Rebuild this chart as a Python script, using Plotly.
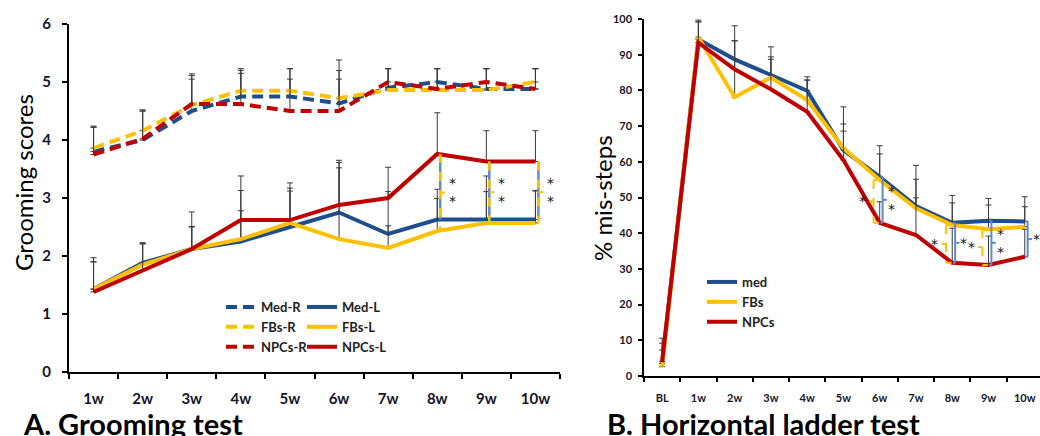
import plotly.graph_objects as go

# ---------------- Data: A. Grooming test ----------------
weeks_a = ["1w", "2w", "3w", "4w", "5w", "6w", "7w", "8w", "9w", "10w"]

med_r = [3.80, 4.00, 4.50, 4.75, 4.75, 4.63, 4.90, 5.00, 4.88, 4.88]
fbs_r = [3.86, 4.16, 4.60, 4.85, 4.85, 4.72, 4.86, 4.86, 4.86, 5.00]
npc_r = [3.75, 4.02, 4.62, 4.62, 4.50, 4.50, 5.00, 4.88, 5.00, 4.88]

med_l = [1.43, 1.88, 2.12, 2.25, 2.50, 2.75, 2.38, 2.63, 2.63, 2.63]
fbs_l = [1.43, 1.85, 2.12, 2.29, 2.57, 2.29, 2.14, 2.43, 2.57, 2.57]
npc_l = [1.38, 1.75, 2.12, 2.62, 2.62, 2.88, 3.00, 3.76, 3.63, 3.63]

# upper ends of the error bars (mean + SEM)
med_r_up = [4.22, 4.52, 5.05, 5.20, 5.23, 5.20, 5.23, 5.23, 5.23, 5.23]
fbs_r_up = [4.24, 4.50, 5.11, 5.23, 5.23, 5.38, 5.23, 5.23, 5.23, 5.23]
npc_r_up = [4.22, 4.50, 5.14, 5.15, 5.05, 5.05, 5.23, 5.23, 5.23, 5.23]
med_l_up = [1.97, 2.23, 2.51, 3.13, 3.12, 3.52, 3.11, 3.15, 3.38, 3.13]
fbs_l_up = [1.90, 2.21, 2.50, 2.78, 3.17, 3.61, 2.52, 2.99, 3.11, 3.12]
npc_l_up = [1.90, 2.21, 2.76, 3.38, 3.26, 3.65, 3.53, 4.47, 4.16, 4.16]

sig_a_idx = [7, 8, 9]
sig_a_txt = ["*<br>*", "*<br>*", "*<br>*"]

# ---------------- Data: B. Horizontal ladder test ----------------
weeks_b = ["BL", "1w", "2w", "3w", "4w", "5w", "6w", "7w", "8w", "9w", "10w"]

med_b = [3.5, 94.3, 88.7, 84.2, 79.9, 63.3, 55.8, 47.6, 42.9, 43.5, 43.3]
fbs_b = [2.6, 94.9, 78.1, 83.6, 77.3, 63.8, 54.9, 47.0, 42.3, 41.1, 41.8]
npc_b = [4.0, 93.4, 85.9, 80.3, 74.0, 60.5, 42.9, 39.5, 31.7, 31.1, 33.4]

med_b_up = [10.6, 99.7, 98.1, 92.2, 83.8, 75.4, 64.5, 59.0, 50.6, 49.7, 50.2]
fbs_b_up = [7.3, 99.2, 93.9, 89.4, 82.9, 70.6, 62.2, 55.1, 48.5, 47.9, 47.4]
npc_b_up = [9.2, 99.2, 93.9, 88.7, 82.9, 68.6, 48.8, 49.9, 41.4, 39.2, 41.1]

sig_b_fbs_idx = [6, 8, 9]
sig_b_fbs_txt = ["*", "*", "*"]
sig_b_med_idx = [6, 8, 9, 10]
sig_b_med_txt = ["*<br>*", "*", "*<br>*", "*"]

# ---------------- Style ----------------
BLUE = "#1F4E8C"
YEL = "#FFC000"
RED = "#C00000"
BR_BLUE = "#5B8BD0"
ERR = "#3A3A3A"
TXT = "#15152a"
W = 1040
H = 436

fig = go.Figure()


def err(up, mean):
    return [round(u - m, 3) for u, m in zip(up, mean)]


def add_line(x, y, up, color, name, dash, xa, ya, legend, width=4):
    fig.add_trace(go.Scatter(
        x=x, y=y, mode="lines", name=name,
        line=dict(color=color, width=width, dash=dash),
        error_y=dict(type="data", symmetric=False, array=err(up, y),
                     arrayminus=[0] * len(y), color=ERR, thickness=1, width=3),
        xaxis=xa, yaxis=ya, legend=legend, showlegend=True,
    ))


DASH = "11px,6px"
# Panel A
add_line(weeks_a, med_r, med_r_up, BLUE, "Med-R", DASH, "x", "y", "legend")
add_line(weeks_a, med_l, med_l_up, BLUE, "Med-L", "solid", "x", "y", "legend2")
add_line(weeks_a, fbs_r, fbs_r_up, YEL, "FBs-R", DASH, "x", "y", "legend")
add_line(weeks_a, fbs_l, fbs_l_up, YEL, "FBs-L", "solid", "x", "y", "legend2")
add_line(weeks_a, npc_r, npc_r_up, RED, "NPCs-R", DASH, "x", "y", "legend")
add_line(weeks_a, npc_l, npc_l_up, RED, "NPCs-L", "solid", "x", "y", "legend2")
# Panel B
add_line(weeks_b, med_b, med_b_up, BLUE, "med", "solid", "x2", "y2", "legend3")
add_line(weeks_b, fbs_b, fbs_b_up, YEL, "FBs", "solid", "x2", "y2", "legend3")
add_line(weeks_b, npc_b, npc_b_up, RED, "NPCs", "solid", "x2", "y2", "legend3")

shapes = []
annos = []


def seg(xref, yref, x0, y0, x1, y1, color, dash="solid", width=2):
    shapes.append(dict(type="line", xref=xref, yref=yref, x0=x0, y0=y0, x1=x1, y1=y1,
                       line=dict(color=color, width=width, dash=dash), layer="above"))


def star(xref, yref, x, y, txt):
    annos.append(dict(xref=xref, yref=yref, x=x, y=y, text=txt, showarrow=False,
                      font=dict(family="DejaVu Sans", size=14, color="#111"),
                      xanchor="center", yanchor="middle"))


# significance brackets, panel A
for i, t in zip(sig_a_idx, sig_a_txt):
    xb = i + 0.06
    ymid = (npc_l[i] + fbs_l[i]) / 2
    seg("x", "y", xb, npc_l[i], xb, med_l[i], BR_BLUE, "solid", 2.5)
    seg("x", "y", xb, npc_l[i], xb, fbs_l[i], YEL, "dash", 2.5)
    seg("x", "y", xb, ymid, xb + 0.1, ymid, YEL, "solid", 2)
    star("x", "y", i + 0.31, ymid, t)

# significance brackets, panel B (FBs vs NPCs, left side)
for i, t in zip(sig_b_fbs_idx, sig_b_fbs_txt):
    xb = i - 0.17
    ymid = (fbs_b[i] + npc_b[i]) / 2
    seg("x2", "y2", xb, fbs_b[i], xb, npc_b[i], YEL, "dash", 2)
    seg("x2", "y2", xb, fbs_b[i], i - 0.02, fbs_b[i], YEL, "solid", 2)
    seg("x2", "y2", xb, npc_b[i], i - 0.02, npc_b[i], YEL, "solid", 2)
    seg("x2", "y2", xb, ymid, xb - 0.12, ymid, YEL, "solid", 2)
    star("x2", "y2", i - 0.48, ymid, t)

# panel B (med vs NPCs, right side)
for i, t in zip(sig_b_med_idx, sig_b_med_txt):
    xb = i + 0.08
    ymid = (med_b[i] + npc_b[i]) / 2
    seg("x2", "y2", xb, med_b[i], xb, npc_b[i], BR_BLUE, "solid", 2)
    seg("x2", "y2", xb, ymid, xb + 0.12, ymid, BR_BLUE, "solid", 2)
    seg("x2", "y2", xb - 0.06, med_b[i], xb, med_b[i], BR_BLUE, "solid", 2)
    seg("x2", "y2", xb - 0.06, npc_b[i], xb, npc_b[i], BR_BLUE, "solid", 2)
    star("x2", "y2", i + 0.32, ymid, t)

# panel titles
annos.append(dict(xref="paper", yref="paper", x=21 / W, y=1 - 423.5 / H, text="A. Grooming test",
                  showarrow=False, xanchor="left", yanchor="middle",
                  font=dict(family="Lato", size=29, color="#000", weight="bold")))
annos.append(dict(xref="paper", yref="paper", x=605 / W, y=1 - 423.5 / H, text="B. Horizontal ladder test",
                  showarrow=False, xanchor="left", yanchor="middle",
                  font=dict(family="Lato", size=29, color="#000", weight="bold")))
# axis titles
annos.append(dict(xref="paper", yref="paper", x=23 / W, y=1 - 183 / H, text="Grooming scores",
                  showarrow=False, xanchor="center", yanchor="middle", textangle=-90,
                  font=dict(family="Lato", size=24, color="#000")))
annos.append(dict(xref="paper", yref="paper", x=602 / W, y=1 - 198 / H, text="% mis-steps",
                  showarrow=False, xanchor="center", yanchor="middle", textangle=-90,
                  font=dict(family="Lato", size=24, color="#000")))

tickfont_a = dict(family="Lato", size=15, color=TXT, weight="bold")
tickfont_b = dict(family="Lato", size=11, color=TXT, weight="bold")
legfont = dict(family="Lato", size=13, color="#222", weight="bold")

fig.update_layout(
    width=W, height=H,
    margin=dict(l=0, r=0, t=0, b=0, autoexpand=False),
    paper_bgcolor="white", plot_bgcolor="white",
    shapes=shapes, annotations=annos,
    xaxis=dict(domain=[69 / W, 560 / W], type="category", range=[-0.5, 9.5], automargin=False,
               showline=True, linecolor="#000", linewidth=2, showgrid=False, zeroline=False,
               ticks="outside", tickson="boundaries", ticklen=5, tickwidth=1.5, tickcolor="#000",
               tickfont=tickfont_a, ticklabelstandoff=12),
    yaxis=dict(domain=[1 - 372 / H, 1 - 24 / H], range=[0, 6], dtick=1, automargin=False,
               showline=True, linecolor="#000", linewidth=2, showgrid=False, zeroline=False,
               ticks="outside", ticklen=5, tickwidth=1.5, tickcolor="#000",
               tickfont=tickfont_a, ticklabelstandoff=8),
    xaxis2=dict(domain=[644 / W, 1.0], type="category", range=[-0.5, 10.42], anchor="y2",
                automargin=False,
                showline=True, linecolor="#000", linewidth=1.5, showgrid=False, zeroline=False,
                ticks="outside", tickson="boundaries", ticklen=4, tickwidth=1.5, tickcolor="#000",
                tickfont=tickfont_b, ticklabelstandoff=11),
    yaxis2=dict(domain=[1 - 376 / H, 1 - 19 / H], range=[0, 100], dtick=10, anchor="x2",
                automargin=False,
                showline=True, linecolor="#000", linewidth=1.5, showgrid=False, zeroline=False,
                ticks="outside", ticklen=4, tickwidth=1.5, tickcolor="#000",
                tickfont=tickfont_b, ticklabelstandoff=4),
    legend=dict(x=221 / W, y=1 - 292 / H, xanchor="left", yanchor="top",
                bgcolor="rgba(0,0,0,0)", tracegroupgap=0, font=legfont),
    legend2=dict(x=302 / W, y=1 - 292 / H, xanchor="left", yanchor="top",
                 bgcolor="rgba(0,0,0,0)", tracegroupgap=0, font=legfont),
    legend3=dict(x=702 / W, y=1 - 267 / H, xanchor="left", yanchor="top",
                 bgcolor="rgba(0,0,0,0)", tracegroupgap=0, font=legfont),
)

fig.write_html("out.html", config={"displayModeBar": False},
               post_script="document.body.style.margin='0px';")
